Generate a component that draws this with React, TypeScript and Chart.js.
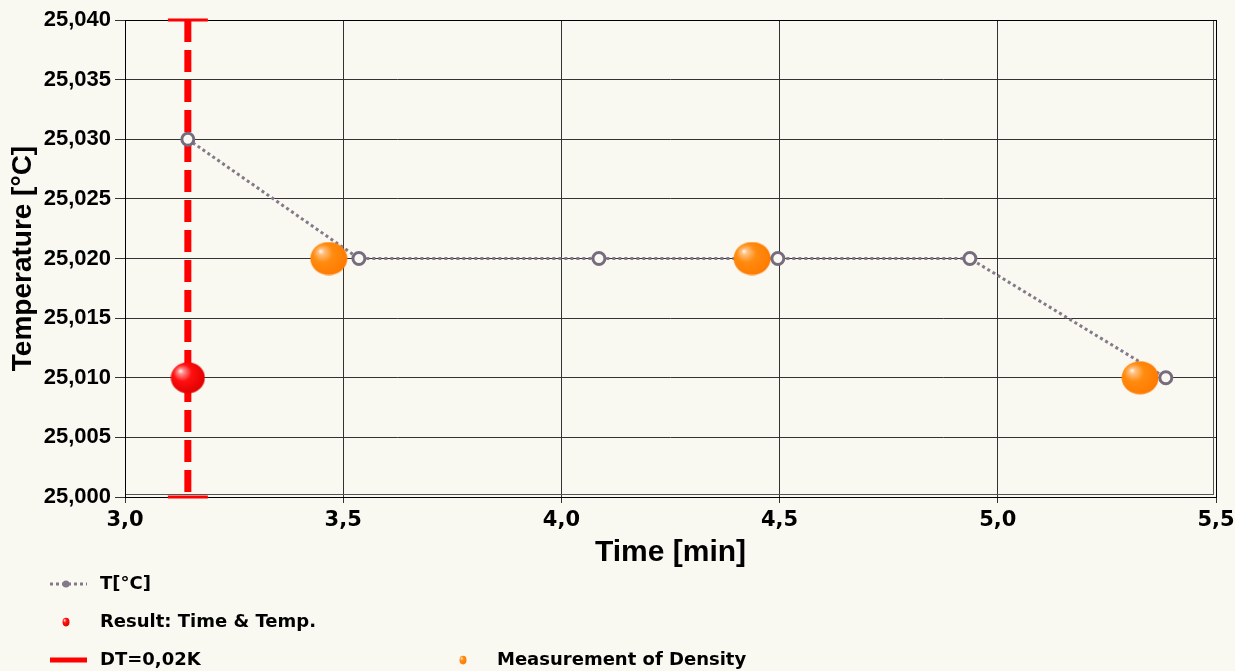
import React, { useEffect, useRef } from 'react';
import { Chart, registerables } from 'chart.js';
Chart.register(...registerables);

// ---- data ----
const tempTimes = [3.144, 3.536, 4.086, 4.496, 4.936, 5.385];
const tempValues = [25.03, 25.02, 25.02, 25.02, 25.02, 25.01];
const densityTimes = [3.467, 4.437, 5.326];
const densityValues = [25.02, 25.02, 25.01];
const resultTimes = [3.144];
const resultTemps = [25.01];
const dtRange = [25.04, 25.0];
const xTicks = [3.0, 3.5, 4.0, 4.5, 5.0, 5.5];
const yTicks = [25.0, 25.005, 25.01, 25.015, 25.02, 25.025, 25.03, 25.035, 25.04];
const legendLabels = ['T[°C]', 'Result: Time & Temp.', 'DT=0,02K', 'Measurement of Density'];

const BG = '#f9f8f1';
const GRAY = '#84798a';

function makeSphere(w: number, h: number, light: string, base: string, dark: string) {
  const c = document.createElement('canvas');
  c.width = w;
  c.height = h;
  const ctx = c.getContext('2d')!;
  ctx.save();
  ctx.translate(w / 2, h / 2);
  ctx.scale(1, h / w);
  const r = w / 2 - 0.5;
  const g = ctx.createRadialGradient(-r * 0.45, -r * 0.45, 0, -r * 0.15, -r * 0.15, r * 1.2);
  g.addColorStop(0, '#ffffff');
  g.addColorStop(0.14, light);
  g.addColorStop(0.45, base);
  g.addColorStop(1, dark);
  ctx.beginPath();
  ctx.arc(0, 0, r, 0, Math.PI * 2);
  ctx.fillStyle = g;
  ctx.fill();
  ctx.restore();
  return c;
}

export default function App() {
  const ref = useRef<HTMLCanvasElement>(null);

  useEffect(() => {
    const canvas = ref.current!;
    const orange = makeSphere(38, 34, '#ffc080', '#ff8c10', '#ff7a00');
    const red = makeSphere(35, 32, '#ff9090', '#ff1010', '#e00000');
    const orangeSmall = makeSphere(8, 10, '#ffc080', '#ff8c10', '#ff7a00');
    const redSmall = makeSphere(8, 10, '#ff9090', '#ff1010', '#e00000');

    const bgPlugin = {
      id: 'bg',
      beforeDraw(chart: any) {
        const ctx = chart.ctx;
        ctx.save();
        ctx.fillStyle = BG;
        ctx.fillRect(0, 0, chart.width, chart.height);
        ctx.restore();
      },
      beforeDatasetsDraw(chart: any) {
        const { ctx, chartArea: a } = chart;
        ctx.save();
        ctx.strokeStyle = '#000';
        ctx.lineWidth = 1;
        ctx.strokeRect(Math.round(a.left) + 0.5, Math.round(a.top) + 0.5, Math.round(a.right - a.left), Math.round(a.bottom - a.top));
        ctx.strokeStyle = '#555';
        ctx.beginPath();
        ctx.moveTo(Math.round(a.right) - 2.5, a.top + 1);
        ctx.lineTo(Math.round(a.right) - 2.5, a.bottom - 2);
        ctx.moveTo(a.left + 1, Math.round(a.bottom) - 2.5);
        ctx.lineTo(a.right - 2, Math.round(a.bottom) - 2.5);
        ctx.stroke();
        ctx.restore();
      },
      afterDraw(chart: any) {
        const ctx = chart.ctx;
        ctx.save();
        const rows = [584, 622, 660];
        // T marker
        ctx.strokeStyle = GRAY;
        ctx.lineWidth = 3;
        ctx.setLineDash([3, 3]);
        ctx.beginPath();
        ctx.moveTo(50, rows[0]);
        ctx.lineTo(87, rows[0]);
        ctx.stroke();
        ctx.setLineDash([]);
        ctx.fillStyle = GRAY;
        ctx.beginPath();
        ctx.arc(66, rows[0], 3.5, 0, Math.PI * 2);
        ctx.fill();
        // result dot
        ctx.drawImage(redSmall, 62, rows[1] - 5);
        // DT line
        ctx.fillStyle = '#ff0000';
        ctx.fillRect(50, rows[2] - 2.5, 37, 5);
        // density dot
        ctx.drawImage(orangeSmall, 459, rows[2] - 5);
        ctx.fillStyle = '#000';
        ctx.font = 'bold 18px "DejaVu Sans"';
        ctx.textBaseline = 'middle';
        ctx.textAlign = 'left';
        ctx.fillText(legendLabels[0], 100, rows[0]);
        ctx.fillText(legendLabels[1], 100, rows[1]);
        ctx.fillText(legendLabels[2], 100, rows[2]);
        ctx.fillText(legendLabels[3], 497, rows[2]);
        ctx.restore();
      },
    };

    const chart = new Chart(canvas, {
      type: 'scatter',
      data: {
        datasets: [
          {
            label: legendLabels[1],
            data: resultTimes.map((x, i) => ({ x, y: resultTemps[i] })),
            pointStyle: red as any,
            pointRadius: 17,
            order: 1,
            clip: false as any,
          },
          {
            label: legendLabels[3],
            data: densityTimes.map((x, i) => ({ x, y: densityValues[i] })),
            pointStyle: orange as any,
            pointRadius: 18,
            order: 2,
            clip: false as any,
          },
          {
            label: legendLabels[0],
            data: tempTimes.map((x, i) => ({ x, y: tempValues[i] })),
            showLine: true,
            borderColor: GRAY,
            borderWidth: 3,
            borderDash: [3, 3],
            pointRadius: 6,
            pointBorderWidth: 3,
            pointBorderColor: '#766c7e',
            pointBackgroundColor: BG,
            order: 3,
            clip: false as any,
          },
          {
            label: legendLabels[2],
            data: dtRange.map((y) => ({ x: resultTimes[0], y })),
            showLine: true,
            borderColor: '#ff0000',
            borderWidth: 7,
            borderDash: [22, 8],
            pointStyle: 'line',
            pointRadius: 20,
            pointBorderWidth: 3,
            pointBorderColor: '#ff0000',
            pointBackgroundColor: '#ff0000',
            order: 4,
            clip: false as any,
          },
        ],
      },
      options: {
        responsive: false,
        animation: false,
        devicePixelRatio: 1,
        layout: { autoPadding: false, padding: { top: 20, right: 19, left: 0, bottom: 0 } },
        plugins: { legend: { display: false }, tooltip: { enabled: false } },
        scales: {
          x: {
            type: 'linear',
            min: 3.0,
            max: 5.5,
            afterBuildTicks: (s: any) => {
              s.ticks = xTicks.map((v) => ({ value: v }));
            },
            afterFit: (s: any) => {
              s.height = 174;
              s.paddingLeft = 0;
              s.paddingRight = 0;
            },
            ticks: {
              color: '#000',
              font: { family: '"DejaVu Sans"', weight: 'bold', size: 21 },
              padding: 5,
              maxRotation: 0,
              autoSkip: false,
              callback: (v: any) => Number(v).toFixed(1).replace('.', ','),
            },
            grid: { color: '#333', lineWidth: 1, tickLength: 6 },
            border: { display: false },
            title: {
              display: true,
              text: 'Time [min]',
              color: '#000',
              font: { family: '"Liberation Sans"', weight: 'bold', size: 30 },
              padding: { top: 0, bottom: 100 },
            },
          },
          y: {
            type: 'linear',
            min: 25.0,
            max: 25.04,
            afterBuildTicks: (s: any) => {
              s.ticks = yTicks.map((v) => ({ value: v }));
            },
            afterFit: (s: any) => {
              s.width = 125;
              s.paddingTop = 0;
              s.paddingBottom = 0;
            },
            ticks: {
              color: '#000',
              font: { family: '"Liberation Sans"', weight: 'bold', size: 22 },
              padding: 4,
              autoSkip: false,
              callback: (v: any) => Number(v).toFixed(3).replace('.', ','),
            },
            grid: { color: '#333', lineWidth: 1, tickLength: 10 },
            border: { display: false },
            title: {
              display: true,
              text: 'Temperature [°C]',
              color: '#000',
              font: { family: '"Liberation Sans"', weight: 'bold', size: 28 },
              padding: { top: 6, bottom: 0 },
            },
          },
        },
      },
      plugins: [bgPlugin],
    } as any);

    return () => chart.destroy();
  }, []);

  return (
    <div style={{ position: 'fixed', left: 0, top: 0, width: 1235, height: 671, background: BG }}>
      <canvas ref={ref} width={1235} height={671} style={{ display: 'block', width: 1235, height: 671 }} />
    </div>
  );
}
